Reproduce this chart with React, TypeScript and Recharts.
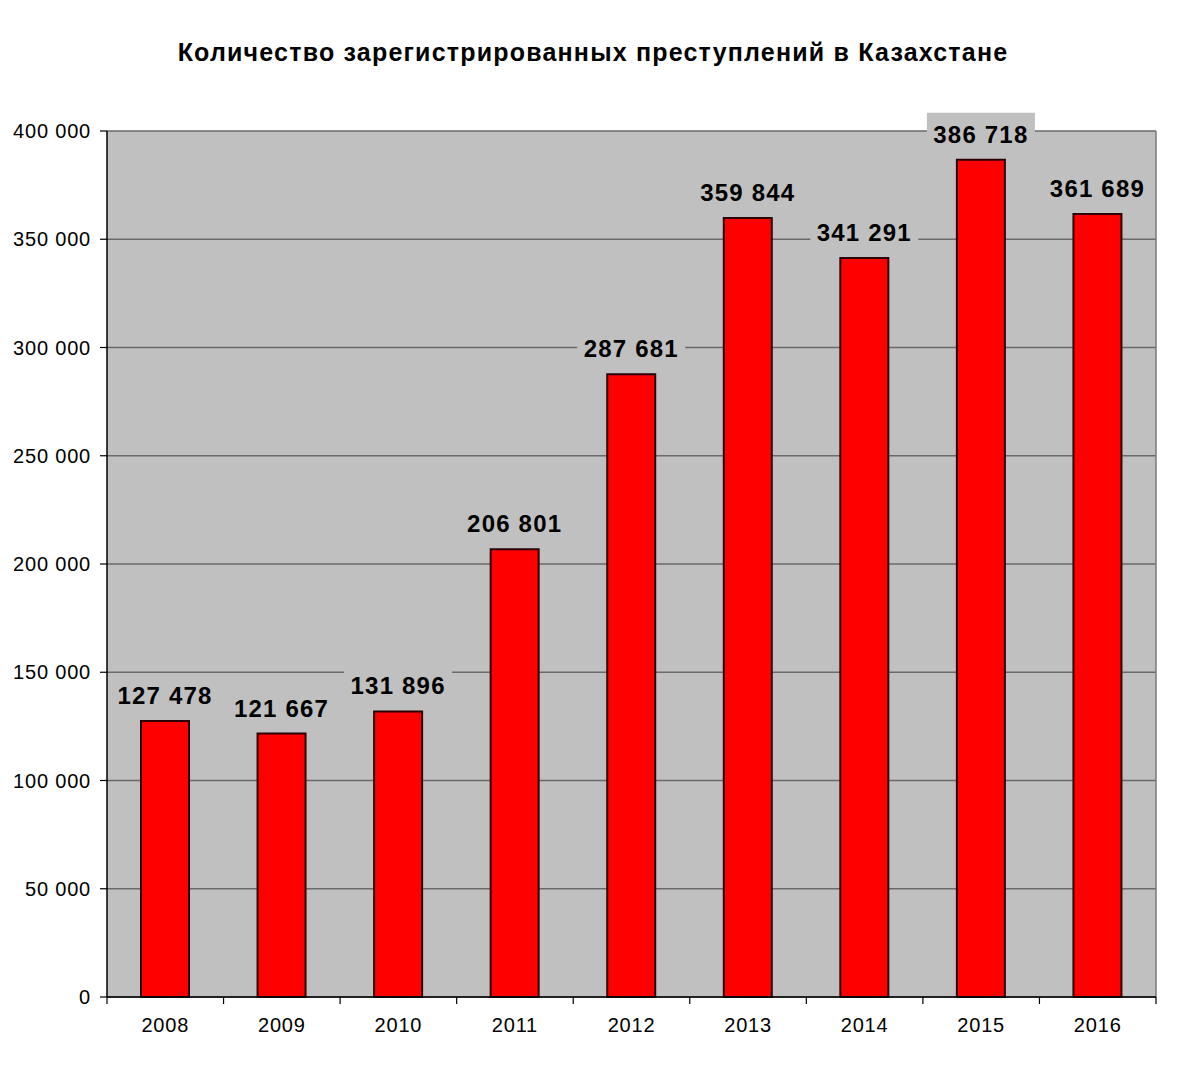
import { Bar, BarChart, CartesianGrid, LabelList, XAxis, YAxis } from 'recharts'

const years = ['2008', '2009', '2010', '2011', '2012', '2013', '2014', '2015', '2016']
const crimes = [127478, 121667, 131896, 206801, 287681, 359844, 341291, 386718, 361689]
const yTicks = [0, 50000, 100000, 150000, 200000, 250000, 300000, 350000, 400000]

const data = years.map((year, i) => ({ year, crimes: crimes[i] }))

const W = 1193
const H = 1080
const LEFT = 107
const RIGHT = 37
const TOP = 131
const BOTTOM = 83
const band = (W - LEFT - RIGHT) / years.length
const font = '"Liberation Sans", Arial, sans-serif'

const fmt = (v: number) => String(v).replace(/\B(?=(\d{3})+(?!\d))/g, ' ')

const YearTick = (props: any) => {
  const { x, y, payload, index } = props
  return (
    <g>
      <line x1={x - band / 2} x2={x - band / 2} y1={y} y2={y + 7} stroke="#000" strokeWidth={1.2} />
      {index === years.length - 1 && (
        <line x1={x + band / 2} x2={x + band / 2} y1={y} y2={y + 7} stroke="#000" strokeWidth={1.2} />
      )}
      <text
        x={x}
        y={y + 35}
        textAnchor="middle"
        fontFamily={font}
        fontSize={20}
        letterSpacing={0.8}
        fill="#000"
      >
        {payload.value}
      </text>
    </g>
  )
}

const ValueLabel = (props: any) => {
  const { x, y, width, value } = props
  const cx = x + width / 2
  const cy = y - 25
  return (
    <g>
      <rect x={cx - 54} y={cy - 22} width={108} height={42} fill="#c0c0c0" />
      <text
        x={cx}
        y={cy + 8}
        textAnchor="middle"
        fontFamily={font}
        fontWeight="bold"
        fontSize={24}
        letterSpacing={1.2}
        fill="#000"
      >
        {fmt(value)}
      </text>
    </g>
  )
}

export default function App() {
  return (
    <div style={{ position: 'absolute', left: 0, top: 0, width: W, height: H, background: '#fff' }}>
      <BarChart
        width={W}
        height={H}
        data={data}
        margin={{ top: TOP, right: RIGHT, left: 0, bottom: 0 }}
        barSize={48}
      >
        <text
          x={593}
          y={61}
          textAnchor="middle"
          fontFamily={font}
          fontWeight="bold"
          fontSize={25}
          letterSpacing={1.2}
          fill="#000"
        >
          Количество зарегистрированных преступлений в Казахстане
        </text>
        <CartesianGrid
          fill="#c0c0c0"
          stroke="#6a6a6a"
          strokeWidth={1.5}
          vertical={false}
        />
        <YAxis
          width={LEFT}
          domain={[0, 400000]}
          ticks={yTicks}
          tickFormatter={fmt}
          axisLine={{ stroke: '#000', strokeWidth: 1.5 }}
          tickLine={{ stroke: '#000', strokeWidth: 1.2 }}
          tickSize={7}
          tickMargin={9}
          tick={{ fontFamily: font, fontSize: 20, fill: '#000', letterSpacing: 0.8 }}
        />
        <XAxis
          dataKey="year"
          height={BOTTOM}
          axisLine={{ stroke: '#000', strokeWidth: 1.5 }}
          tickLine={false}
          tickSize={0}
          tickMargin={0}
          interval={0}
          tick={<YearTick />}
        />
        <Bar
          dataKey="crimes"
          fill="#ff0000"
          stroke="#2a0000"
          strokeWidth={2}
          isAnimationActive={false}
        >
          <LabelList dataKey="crimes" content={<ValueLabel />} />
        </Bar>
        <line x1={W - RIGHT} x2={W - RIGHT} y1={TOP} y2={H - BOTTOM} stroke="#7a7a7a" strokeWidth={1.5} />
      </BarChart>
    </div>
  )
}
